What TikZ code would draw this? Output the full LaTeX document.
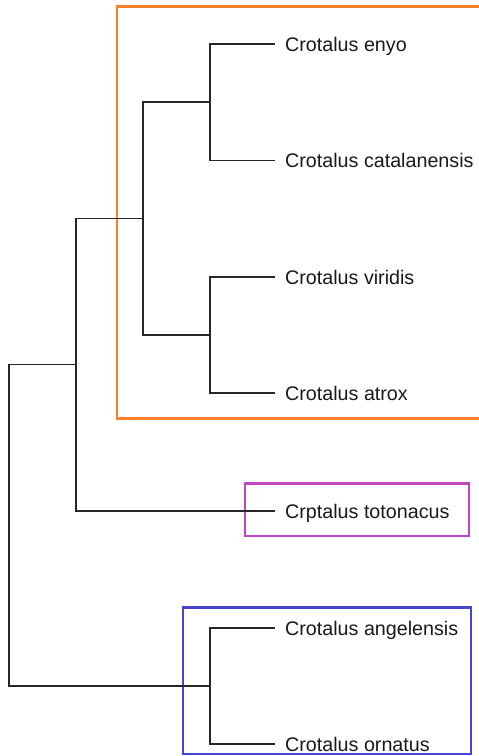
\documentclass[tikz,border=0pt]{standalone}
\usepackage{fontspec}
\setmainfont{Liberation Sans}
\usetikzlibrary{positioning}
\definecolor{frameorange}{RGB}{255,128,44}
\definecolor{framemagenta}{RGB}{190,70,195}
\definecolor{frameblue}{RGB}{70,70,210}

\begin{document}
\begin{tikzpicture}[x=1pt,y=-1pt,
  leaf/.style={anchor=west,inner xsep=10pt,inner ysep=0pt,text height=14pt,text depth=0pt,
    font=\fontsize{19.7}{23}\selectfont,text=black!90},
  br/.style={line width=1.3pt,black!85},
  frm/.style={line width=2.6pt}]
\useasboundingbox (0,0) rectangle (479,756);
% leaves
\node[leaf] (enyo) at (275,44) {Crotalus enyo};
\node[leaf] (cata) at (275,160.5) {Crotalus catalanensis};
\node[leaf] (viri) at (275,277) {Crotalus viridis};
\node[leaf] (atro) at (275,393) {Crotalus atrox};
\node[leaf] (toto) at (275,511) {Crptalus totonacus};
\node[leaf] (ange) at (275,628) {Crotalus angelensis};
\node[leaf] (orna) at (275,744) {Crotalus ornatus};
% inner nodes
\coordinate (ec) at (210,102);
\coordinate (va) at (210,335);
\coordinate (ev) at (143,218.5);
\coordinate (et) at (76,364.5);
\coordinate (ao) at (210,686);
\coordinate (rt) at (9,525);
% frames
\draw[frm,frameorange] (479,6.5) -| (117,418.5) -- (479,418.5);
\draw[frm,framemagenta] (245,483.5) rectangle (469,536);
\draw[frm,frameblue] (183,607.5) rectangle (471,754);
% branches
\draw[br] (ec) |- (enyo.west);
\draw[br] (ec) |- (cata.west);
\draw[br] (va) |- (viri.west);
\draw[br] (va) |- (atro.west);
\draw[br] (ev) |- (ec);
\draw[br] (ev) |- (va);
\draw[br] (et) |- (ev);
\draw[br] (et) |- (toto.west);
\draw[br] (ao) |- (ange.west);
\draw[br] (ao) |- (orna.west);
\draw[br] (rt) |- (et);
\draw[br] (rt) |- (ao);
\end{tikzpicture}
\end{document}
